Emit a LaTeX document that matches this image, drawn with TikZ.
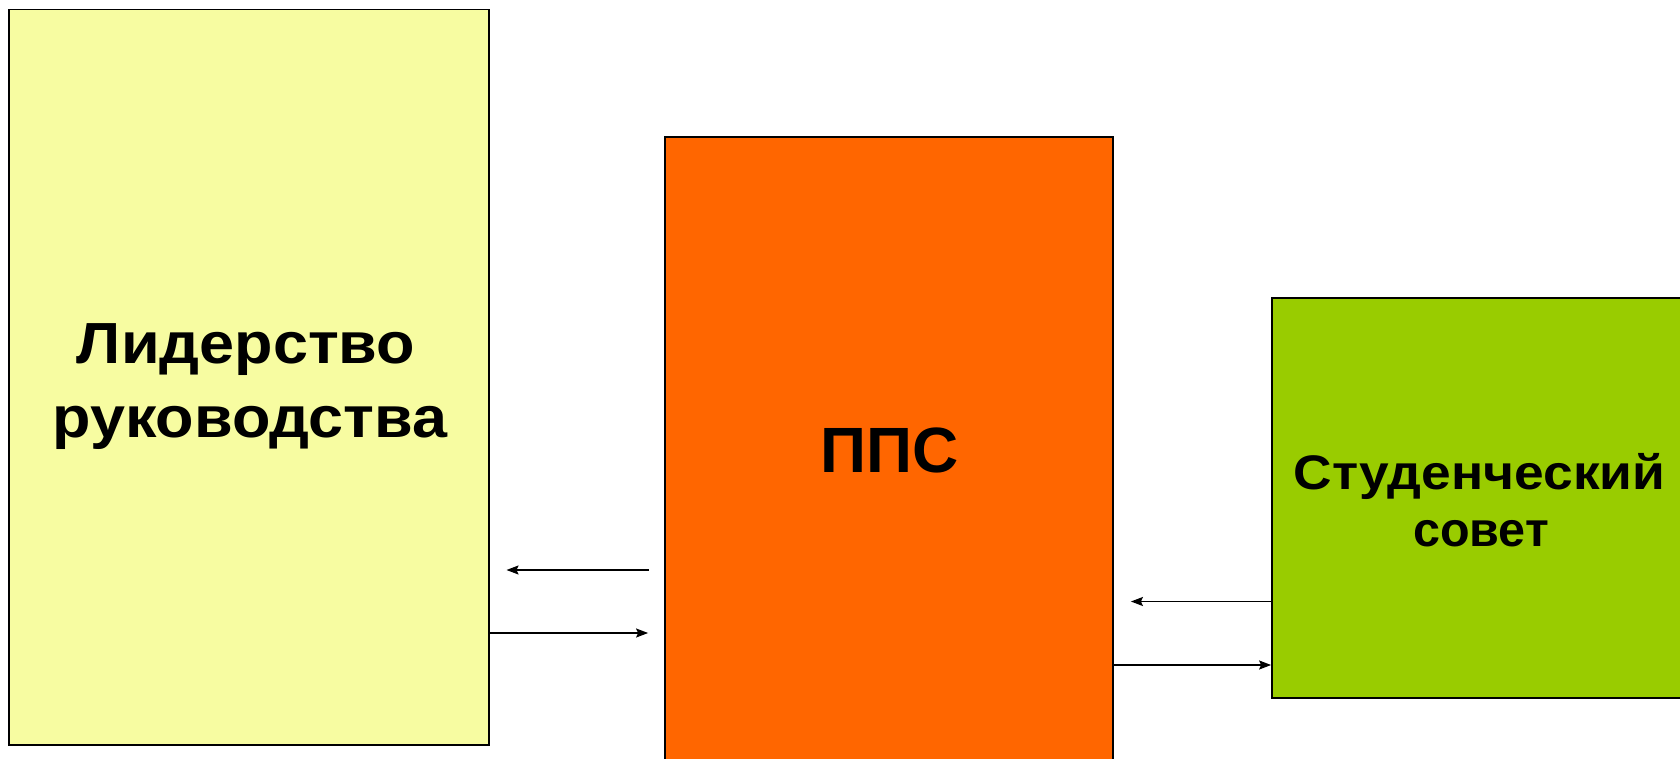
\documentclass[tikz,border=0pt]{standalone}
\usepackage{fontspec}
\setmainfont{Liberation Sans}
\newfontfamily\wideA[FakeStretch=1.085]{Liberation Sans}
\newfontfamily\wideB[FakeStretch=1.10]{Liberation Sans}
\usetikzlibrary{arrows.meta}
\definecolor{leadc}{HTML}{F7FCA1}
\definecolor{ppcc}{HTML}{FF6600}
\definecolor{studc}{HTML}{99CC00}
\tikzset{
  box/.style={draw=black, line width=1.8pt, rectangle, inner sep=0pt},
  lbl/.style={anchor=base, inner sep=0pt},
  arr/.style={line width=1.5pt, -{Stealth[length=12pt,width=9pt,inset=2pt]}}
}
\begin{document}
\begin{tikzpicture}[x=1pt,y=-1pt]
\useasboundingbox (0,0) rectangle (1680,759);
\node[box, fill=leadc, minimum width=480pt, minimum height=735pt] (lead) at (248.6,377.1) {};
\node[box, fill=ppcc, minimum width=448pt, minimum height=626pt] (ppc) at (889,450) {};
\node[box, fill=studc, minimum width=418pt, minimum height=399.4pt] (stud) at (1481,498) {};
\node[lbl, font=\wideA\bfseries\fontsize{58}{70}\selectfont] (lead1) at (246,363) {Лидерство};
\node[lbl, font=\wideA\bfseries\fontsize{58}{70}\selectfont] (lead2) at (250,437) {руководства};
\node[lbl, font=\bfseries\fontsize{64}{76}\selectfont] (ppct) at (890,472.7) {ППС};
\node[lbl, font=\wideB\bfseries\fontsize{48.5}{58}\selectfont] (stud1) at (1479.5,489.3) {Студенческий};
\node[lbl, font=\bfseries\fontsize{48.5}{58}\selectfont] (stud2) at (1481,546.7) {совет};
\draw[arr, shorten <=15pt, shorten >=17pt] (ppc.west |- 0,570) -- (lead.east |- 0,570);
\draw[arr, shorten >=16pt] (lead.east |- 0,633) -- (ppc.west |- 0,633);
\draw[arr, shorten >=17pt] (stud.west |- 0,601.5) -- (ppc.east |- 0,601.5);
\draw[arr] (ppc.east |- 0,665) -- (stud.west |- 0,665);
\end{tikzpicture}
\end{document}
